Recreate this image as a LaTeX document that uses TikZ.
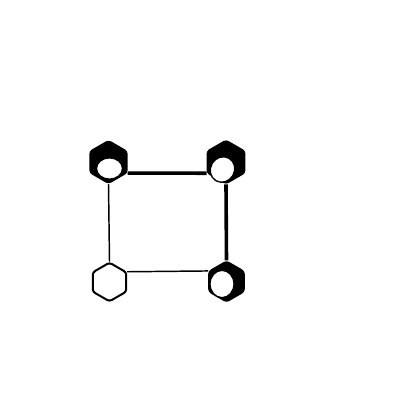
\documentclass[tikz,border=0pt]{standalone}
\usetikzlibrary{shapes.geometric}

\begin{document}
\begin{tikzpicture}[x=0.75pt,y=0.75pt,yscale=-1,xscale=1,
  hexnode/.style={regular polygon,regular polygon sides=6,shape border rotate=30,inner sep=0pt,rounded corners=2pt},
  darknode/.style={hexnode,draw=black,fill=black,line width=1pt},
  lightnode/.style={hexnode,draw=black,fill=white,line width=1.5pt},
  hole/.style={ellipse,draw=black,fill=white,line width=1pt,inner sep=0pt},
  thinedge/.style={draw=black,line width=1.1pt},
  thickedge/.style={draw=black,line width=2.7pt}]
%set diagram size 400 x 400
\path (0,0) rectangle (400,400);

%Shape: Hexagon [top left]
\node [darknode,minimum size=32pt] (tl) at (108.5,162) {};
\node [hole,minimum width=19.5pt,minimum height=16pt] (tlh) at (109.5,168.5) {};
%Shape: Hexagon [top right]
\node [darknode,minimum size=32.5pt] (tr) at (226,162) {};
\node [hole,minimum width=18pt,minimum height=19.5pt,rotate=-30] (trh) at (222.5,169.5) {};
%Shape: Hexagon [bottom left]
\node [lightnode,minimum size=29pt] (bl) at (109.5,282) {};
%Shape: Hexagon [bottom right]
\node [darknode,minimum size=30.5pt] (br) at (226.5,281.5) {};
\node [hole,minimum width=18pt,minimum height=20.5pt] (brh) at (222,284) {};

%Straight Lines
\draw [thickedge] (tl.-30) -- (tr.-150);
\draw [thickedge] (tr.south) -- (br.north);
\draw [thinedge] (tl.south) -- (bl.north);
\draw [thinedge] (bl.30) -- (br.150);

\end{tikzpicture}
\end{document}
